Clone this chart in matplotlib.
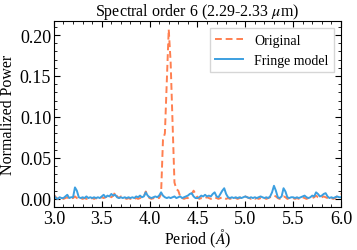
import numpy as np
import matplotlib.pyplot as plt
from matplotlib.ticker import MultipleLocator

plt.rcParams['font.family'] = ['Liberation Serif', 'DejaVu Serif']
plt.rcParams['mathtext.fontset'] = 'stix'

# period grid 3.00 .. 6.00, step 0.02
period = np.round(np.arange(3.0, 6.0001, 0.02), 2)

original = [
    0.005, 0.002, 0.000, 0.001, 0.001,   # 3.0
    0.000, 0.001, 0.002, 0.000, 0.001,   # 3.1
    0.001, 0.003, 0.001, 0.000, 0.001,   # 3.2
    0.000, 0.001, 0.000, 0.001, 0.000,   # 3.3
    0.001, 0.000, 0.001, 0.000, 0.001,   # 3.4
    0.002, 0.001, 0.002, 0.003, 0.004,   # 3.5
    0.002, 0.004, 0.008, 0.003, 0.001,   # 3.6
    0.003, 0.002, 0.001, 0.000, 0.001,   # 3.7
    0.000, 0.001, 0.000, 0.001, 0.000,   # 3.8
    0.001, 0.002, 0.003, 0.009, 0.003,   # 3.9
    0.001, 0.000, 0.001, 0.000, 0.001,   # 4.0
    0.001, 0.006, 0.072, 0.080, 0.144,   # 4.1
    0.207, 0.167, 0.094, 0.020, 0.012,   # 4.2
    0.010, 0.003, 0.001, 0.000, 0.001,   # 4.3
    0.001, 0.003, 0.006, 0.010, 0.006,   # 4.4
    0.002, 0.000, 0.001, 0.000, 0.001,   # 4.5
    0.002, 0.001, 0.000, 0.001, 0.002,   # 4.6
    0.001, 0.000, 0.001, 0.002, 0.001,   # 4.7
    0.000, 0.001, 0.000, 0.001, 0.002,   # 4.8
    0.001, 0.000, 0.001, 0.002, 0.003,   # 4.9
    0.003, 0.002, 0.001, 0.000, 0.001,   # 5.0
    0.000, 0.001, 0.000, 0.001, 0.000,   # 5.1
    0.001, 0.000, 0.001, 0.002, 0.003,   # 5.2
    0.004, 0.003, 0.001, 0.000, 0.001,   # 5.3
    0.003, 0.002, 0.000, 0.001, 0.000,   # 5.4
    0.001, 0.000, 0.001, 0.000, 0.001,   # 5.5
    0.002, 0.001, 0.000, 0.001, 0.002,   # 5.6
    0.001, 0.002, 0.004, 0.002, 0.001,   # 5.7
    0.002, 0.003, 0.002, 0.001, 0.000,   # 5.8
    0.001, 0.000, 0.001, 0.003, 0.004,   # 5.9
    0.006,                               # 6.0
]

fringe = [
    0.004, 0.001, 0.000, 0.002, 0.001,   # 3.0
    0.001, 0.003, 0.005, 0.001, 0.002,   # 3.1
    0.002, 0.014, 0.010, 0.002, 0.001,   # 3.2
    0.002, 0.001, 0.003, 0.001, 0.002,   # 3.3
    0.001, 0.002, 0.001, 0.002, 0.001,   # 3.4
    0.003, 0.005, 0.002, 0.004, 0.003,   # 3.5
    0.006, 0.004, 0.005, 0.002, 0.001,   # 3.6
    0.002, 0.001, 0.002, 0.001, 0.002,   # 3.7
    0.001, 0.002, 0.001, 0.003, 0.002,   # 3.8
    0.004, 0.002, 0.003, 0.008, 0.004,   # 3.9
    0.002, 0.001, 0.002, 0.003, 0.002,   # 4.0
    0.004, 0.008, 0.004, 0.002, 0.001,   # 4.1
    0.002, 0.001, 0.002, 0.003, 0.001,   # 4.2
    0.002, 0.003, 0.001, 0.002, 0.003,   # 4.3
    0.004, 0.006, 0.007, 0.003, 0.001,   # 4.4
    0.001, 0.002, 0.004, 0.003, 0.005,   # 4.5
    0.003, 0.004, 0.003, 0.006, 0.008,   # 4.6
    0.003, 0.002, 0.006, 0.010, 0.013,   # 4.7
    0.006, 0.002, 0.001, 0.002, 0.001,   # 4.8
    0.002, 0.001, 0.002, 0.001, 0.002,   # 4.9
    0.003, 0.002, 0.001, 0.002, 0.001,   # 5.0
    0.002, 0.001, 0.002, 0.003, 0.002,   # 5.1
    0.001, 0.002, 0.001, 0.003, 0.008,   # 5.2
    0.016, 0.010, 0.002, 0.001, 0.003,   # 5.3
    0.013, 0.009, 0.002, 0.001, 0.002,   # 5.4
    0.002, 0.001, 0.002, 0.001, 0.002,   # 5.5
    0.003, 0.004, 0.002, 0.001, 0.002,   # 5.6
    0.004, 0.003, 0.008, 0.006, 0.003,   # 5.7
    0.004, 0.006, 0.007, 0.003, 0.001,   # 5.8
    0.002, 0.001, 0.002, 0.003, 0.002,   # 5.9
    0.002,                               # 6.0
]

fig = plt.figure(figsize=(3.57, 2.51), dpi=100)
ax = fig.add_axes([0.151, 0.171, 0.804, 0.741])

ax.plot(period, original, color='#FF7F50', ls='--', lw=1.4, dashes=(3.5, 2), label='Original')
ax.plot(period, fringe, color='#3C9FE0', ls='-', lw=1.4, label='Fringe model')

ax.set_xlim(3.0, 6.0)
ax.set_ylim(-0.01, 0.217)
ax.xaxis.set_major_locator(MultipleLocator(0.5))
ax.xaxis.set_minor_locator(MultipleLocator(0.1))
ax.yaxis.set_major_locator(MultipleLocator(0.05))
ax.yaxis.set_minor_locator(MultipleLocator(0.01))
ax.tick_params(which='both', direction='in', top=True, right=True, labelsize=13, pad=2)
ax.tick_params(which='major', length=4)
ax.tick_params(which='minor', length=2)

ax.set_title(r'Spectral order 6 (2.29-2.33 $\mu$m)', fontsize=11.5, pad=4)
ax.set_xlabel(r'Period ($\AA$)', fontsize=11.5, labelpad=0)
ax.set_ylabel('Normalized Power', fontsize=11.5, labelpad=3)
ax.legend(loc='upper right', fontsize=10, fancybox=False, edgecolor='#cccccc')

fig.savefig('out.png', dpi=100)
